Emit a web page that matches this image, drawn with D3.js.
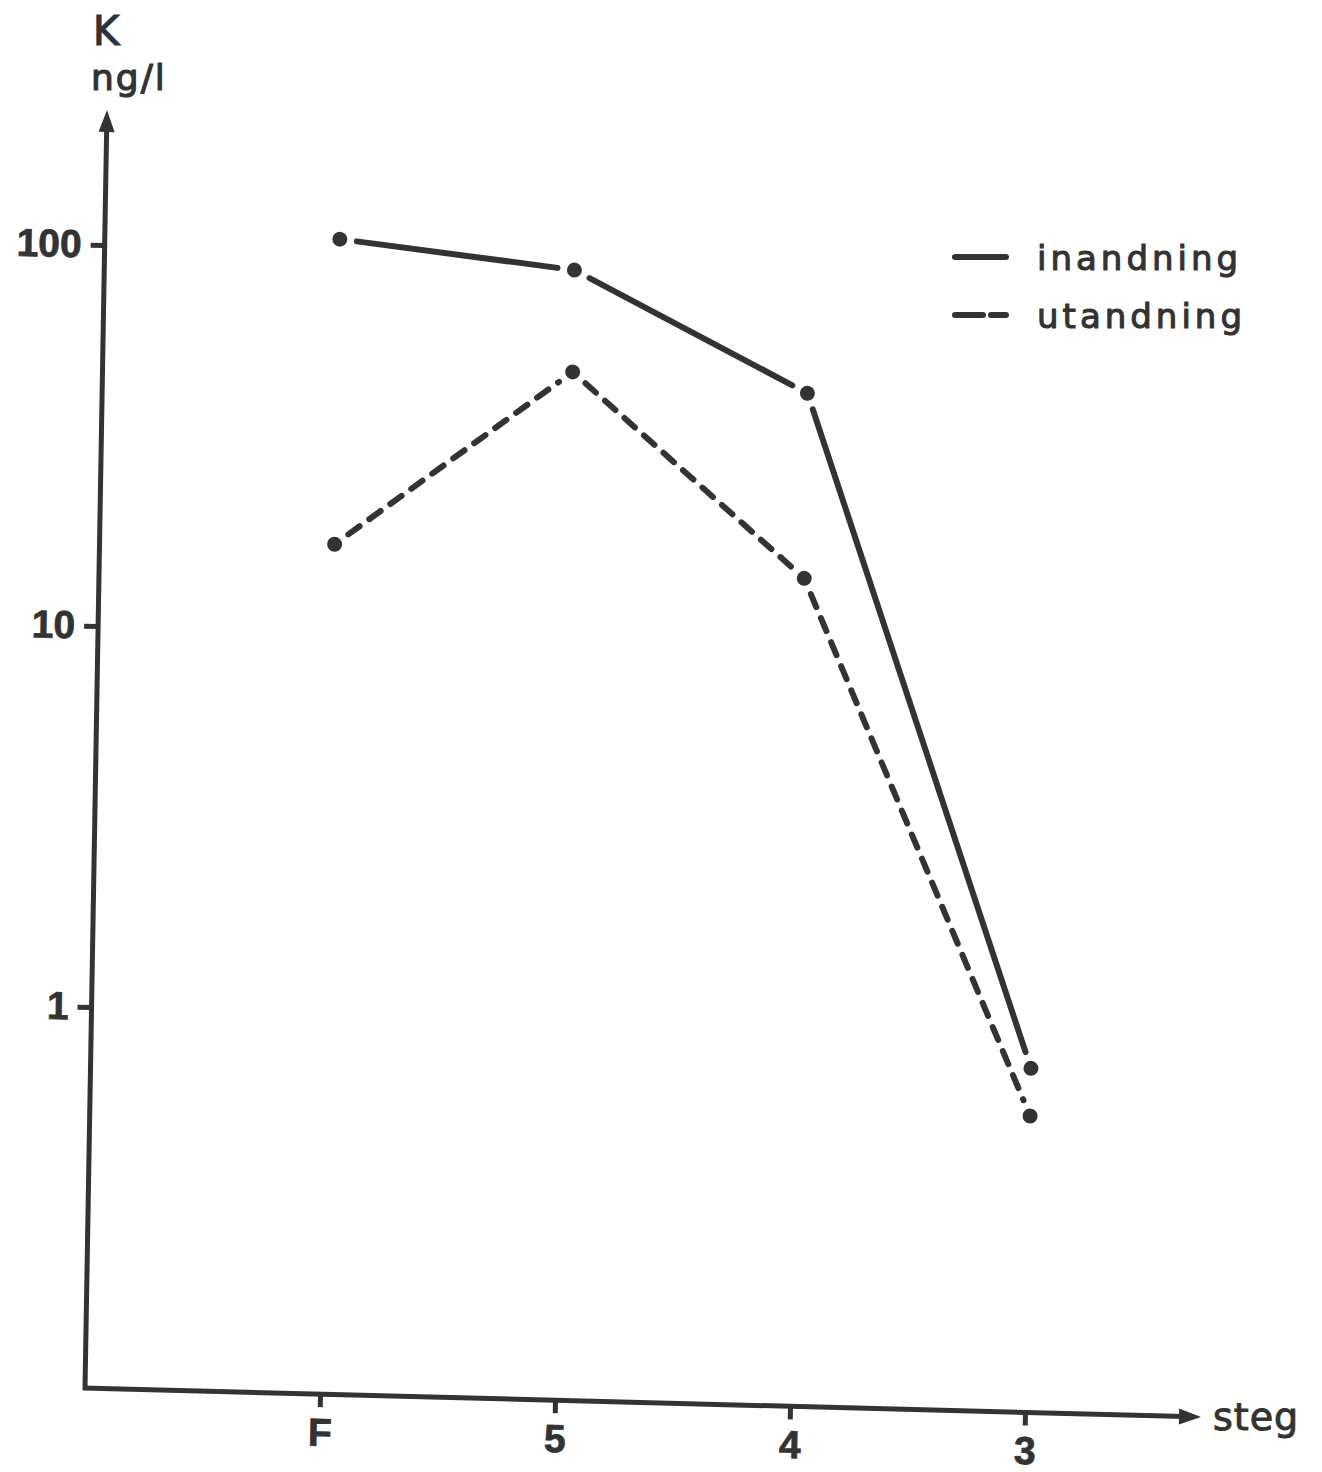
<!DOCTYPE html>
<html>
<head>
<meta charset="utf-8">
<script src="https://cdn.jsdelivr.net/npm/d3@7"></script>
<style>
  html, body { margin: 0; padding: 0; background: #ffffff; }
  svg { display: block; }
</style>
</head>
<body>
<svg id="chart" width="1322" height="1472"></svg>
<script>
// ---- data ----
const categories = ["F", "5", "4", "3"];
const inandning = [107.5, 92.5, 45.6, 0.80];
const utandning = [17.0, 50.0, 14.9, 0.60];
const yTickValues = [1, 10, 100];
const yTickLabels = ["1", "10", "100"];
const seriesNames = ["inandning", "utandning"];

// ---- setup ----
const ink = "#333333";
const svg = d3.select("#chart");

// scanned page is slightly skewed: local frame mapped with an affine matrix
const g = svg.append("g")
  .attr("transform", "matrix(1,0.026,-0.0172,1,85,1388)");

const x = d3.scalePoint().domain(categories).range([235, 940]);
const y = d3.scaleLog().domain([0.1, 100]).range([0, -1143]);

// ---- axes lines with arrows ----
g.append("line").attr("x1", 0).attr("y1", 2).attr("x2", 0).attr("y2", -1262)
  .attr("stroke", ink).attr("stroke-width", 5);
g.append("path").attr("d", "M0,-1278 L-8,-1256 L8,-1256 Z").attr("fill", ink);

g.append("line").attr("x1", -2).attr("y1", 0).attr("x2", 1100).attr("y2", 0)
  .attr("stroke", ink).attr("stroke-width", 5);
g.append("path").attr("d", "M1116,0 L1094,-8 L1094,8 Z").attr("fill", ink);

// ---- y axis ticks ----
const yAxis = d3.axisLeft(y)
  .tickValues(yTickValues)
  .tickFormat((d, i) => yTickLabels[i])
  .tickSize(14)
  .tickPadding(9);
const ya = g.append("g").call(yAxis);
ya.select(".domain").remove();
ya.selectAll(".tick line").attr("stroke", ink).attr("stroke-width", 5);
ya.selectAll(".tick text")
  .attr("fill", ink)
  .attr("stroke", ink).attr("stroke-width", 0.8)
  .style("font-family", "'Liberation Sans', Arial, sans-serif")
  .style("font-weight", "bold")
  .style("font-size", "39px");

// ---- x axis ticks ----
const xAxis = d3.axisBottom(x).tickSize(13).tickPadding(11);
const xa = g.append("g").call(xAxis);
xa.select(".domain").remove();
xa.selectAll(".tick line").attr("stroke", ink).attr("stroke-width", 5);
xa.selectAll(".tick text")
  .attr("fill", ink)
  .attr("stroke", ink).attr("stroke-width", 0.8)
  .style("font-family", "'Liberation Sans', Arial, sans-serif")
  .style("font-weight", "bold")
  .style("font-size", "39px");

// ---- series ----
function drawSeries(values, dashed) {
  const pts = values.map((v, i) => [x(categories[i]), y(v)]);
  const gap = 17;
  for (let i = 0; i < pts.length - 1; i++) {
    const [x1, y1] = pts[i], [x2, y2] = pts[i + 1];
    const dx = x2 - x1, dy = y2 - y1, L = Math.hypot(dx, dy);
    const ux = dx / L, uy = dy / L;
    g.append("line")
      .attr("x1", x1 + ux * gap).attr("y1", y1 + uy * gap)
      .attr("x2", x2 - ux * gap).attr("y2", y2 - uy * gap)
      .attr("stroke", ink).attr("stroke-width", 6)
      .attr("stroke-linecap", "round")
      .attr("stroke-dasharray", dashed ? "14,12" : null);
  }
  g.selectAll(null).data(pts).enter().append("circle")
    .attr("cx", d => d[0]).attr("cy", d => d[1]).attr("r", 7.5)
    .attr("fill", ink);
}
drawSeries(inandning, false);
drawSeries(utandning, true);

// ---- axis titles ----
const txtFont = "'DejaVu Sans', sans-serif";
svg.append("text").attr("x", 93).attr("y", 45).text("K")
  .attr("fill", ink).attr("stroke", ink).attr("stroke-width", 1.2)
  .style("font-family", txtFont).style("font-size", "40px");
svg.append("text").attr("x", 91).attr("y", 90).text("ng/l")
  .attr("fill", ink).attr("stroke", ink).attr("stroke-width", 1.2)
  .style("font-family", txtFont).style("font-size", "36px")
  .style("letter-spacing", "2px");
svg.append("text").attr("x", 1213).attr("y", 1430).text("steg")
  .attr("fill", ink).attr("stroke", ink).attr("stroke-width", 1)
  .style("font-family", txtFont).style("font-size", "38px")
  .style("letter-spacing", "1px");

// ---- legend ----
const legend = svg.append("g");
seriesNames.forEach((name, i) => {
  const ly = 257 + i * 58;
  legend.append("line").attr("x1", 955).attr("x2", 1006).attr("y1", ly).attr("y2", ly)
    .attr("stroke", ink).attr("stroke-width", 6).attr("stroke-linecap", "round")
    .attr("stroke-dasharray", i === 1 ? "28,8" : null);
  legend.append("text").attr("x", 1037).attr("y", ly + 13).text(name)
    .attr("fill", ink).attr("stroke", ink).attr("stroke-width", 1.1)
    .style("font-family", txtFont).style("font-size", "34px")
    .style("letter-spacing", "4px");
});
</script>
</body>
</html>
